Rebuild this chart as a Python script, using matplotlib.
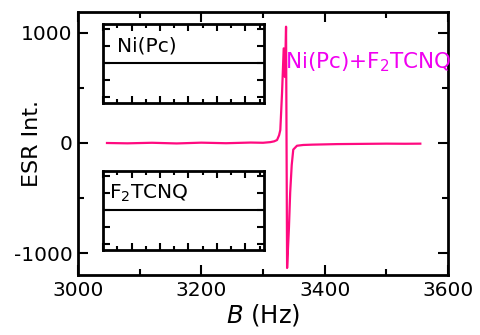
import matplotlib
matplotlib.use("Agg")
import matplotlib.pyplot as plt
from matplotlib.ticker import MultipleLocator

# ESR spectrum of Ni(Pc)+F2TCNQ
field = [3047, 3080, 3120, 3160, 3200, 3240, 3280, 3300, 3312, 3318,
         3322.7, 3326, 3328, 3330.8, 3333.5, 3335.5, 3337.3, 3339.0,
         3340.5, 3342, 3344, 3346.5, 3349, 3355, 3365, 3380, 3420,
         3460, 3500, 3530, 3555]
esr = [0, -3, 2, -4, 3, -2, 4, 2, 8, 15,
       27, 70, 118, 455, 860, 600, 1057, -1136,
       -950, -770, -450, -200, -60, -25, -18, -15, -10,
       -8, -6, -7, -6]

# empty reference traces shown in the insets
ref_x = [0, 5.65]
ref_y = [0, 0]

line_color = "#ff0a80"
text_color = "#f000f0"

plt.rcParams['font.family'] = ['DejaVu Sans']
plt.rcParams['axes.unicode_minus'] = False
fig = plt.figure(figsize=(4.8, 3.35), dpi=100)

ax = fig.add_axes([0.1625, 0.179, 0.771, 0.785])
ax.plot(field, esr, color=line_color, lw=1.6)
ax.set_xlim(3000, 3600)
ax.set_ylim(-1200, 1190)
ax.set_xticks([3000, 3200, 3400, 3600])
ax.set_yticks([-1000, 0, 1000])
ax.xaxis.set_minor_locator(MultipleLocator(100))
ax.yaxis.set_minor_locator(MultipleLocator(500))
ax.tick_params(which='both', direction='in', top=True, right=True,
               labelsize=14.5, width=1.5, pad=4)
ax.tick_params(which='major', length=7)
ax.tick_params(which='minor', length=4)
for s in ax.spines.values():
    s.set_linewidth(2)
ax.set_xlabel(r"$\mathit{B}$ (Hz)", fontsize=17.5, labelpad=2)
ax.set_ylabel("ESR Int.", fontsize=16)
ax.yaxis.set_label_coords(-0.097, 0.5)
ax.text(3336, 736, r"Ni(Pc)+F$_2$TCNQ", color=text_color, fontsize=15.5,
        ha='left', va='center')

for bottom, name, xpos in [(0.6925, "Ni(Pc)", 0.09), (0.2537, r"F$_2$TCNQ", 0.04)]:
    ins = fig.add_axes([0.2146, bottom, 0.3354, 0.236])
    ins.plot(ref_x, ref_y, color='black', lw=1.5)
    ins.set_xlim(0, 5.65)
    ins.set_ylim(-1, 1)
    ins.xaxis.set_major_locator(MultipleLocator(1))
    ins.xaxis.set_minor_locator(MultipleLocator(0.5))
    ins.set_yticks([-0.86, -0.43, 0, 0.43, 0.86])
    ins.tick_params(which='both', direction='in', top=True, right=True,
                    labelbottom=False, labelleft=False, width=1.5)
    ins.tick_params(which='major', length=5)
    ins.tick_params(which='minor', length=3)
    for s in ins.spines.values():
        s.set_linewidth(2)
    ins.text(xpos, 0.72, name, fontsize=14.5, ha='left', va='center',
             transform=ins.transAxes)

fig.savefig("out.png", dpi=100)
